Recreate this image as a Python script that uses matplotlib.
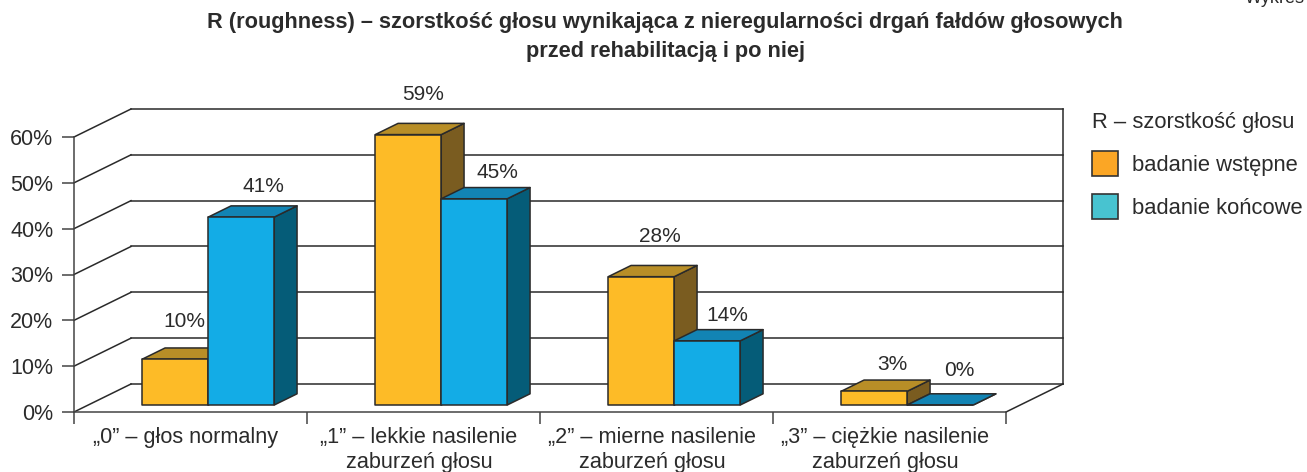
"""3D-style bar chart of voice roughness before and after rehabilitation."""

from matplotlib import pyplot as plt
from matplotlib.patches import Patch, Polygon

categories = [
    "„0” – głos normalny",
    "„1” – lekkie nasilenie\nzaburzeń głosu",
    "„2” – mierne nasilenie\nzaburzeń głosu",
    "„3” – ciężkie nasilenie\nzaburzeń głosu",
]
series_names = ["badanie wstępne", "badanie końcowe"]
initial_values = [10, 59, 28, 3]
final_values = [41, 45, 14, 0]
y_ticks = [0, 10, 20, 30, 40, 50, 60]

plt.rcParams["font.family"] = ["Liberation Sans", "DejaVu Sans"]

TEXT = "#2b2b2b"
LINE = "#2a2a2a"
# front, top and side shades of each series
YELLOW = ("#fdbb27", "#b88e27", "#7a5c20")
BLUE = ("#13ace6", "#1284b4", "#055c78")

# Depth direction of the fake 3D box, in data units
DEPTH_X = 57 / 233
DEPTH_Y = 28 / 4.583
BAR_DEPTH_START = 0.25
BAR_DEPTH = 0.4
BAR_GAP = 54 / 233
BAR_WIDTH = 66 / 233

# Hand placed label offsets in points, one pair per bar (dx, dy from back top centre)
INITIAL_NUDGE = [(-9.5, 19), (-6, 21), (-3, 20.5), (-3.5, 11.5)]
FINAL_NUDGE = [(-0.5, 14), (0, 10.5), (-2, 10.5), (-2.5, 16.5)]


def draw_bar(axis, x, height, colors):
    """Draw one bar as front, top and side faces."""
    x1 = x + BAR_WIDTH
    bottom0 = BAR_DEPTH_START * DEPTH_Y
    top0 = bottom0 + height
    xb0, xb1 = x + BAR_DEPTH * DEPTH_X, x1 + BAR_DEPTH * DEPTH_X
    top1 = top0 + BAR_DEPTH * DEPTH_Y
    bottom1 = bottom0 + BAR_DEPTH * DEPTH_Y
    faces = [
        ([(x1, bottom0), (x1, top0), (xb1, top1), (xb1, bottom1)], colors[2]),
        ([(x, top0), (x1, top0), (xb1, top1), (xb0, top1)], colors[1]),
        ([(x, bottom0), (x1, bottom0), (x1, top0), (x, top0)], colors[0]),
    ]
    for points, color in faces:
        axis.add_patch(
            Polygon(points, closed=True, facecolor=color, edgecolor=LINE,
                    linewidth=1.1, joinstyle="round", clip_on=False, zorder=3)
        )
    return (x + x1) / 2 + BAR_DEPTH * DEPTH_X, top1


figure = plt.figure(figsize=(13.07, 4.72), dpi=100)
axis = figure.add_axes([74 / 1307, 60 / 472, 932 / 1307, 275 / 472])
axis.set_xlim(0, 4)
axis.set_ylim(0, 60)

# Walls: side diagonals and back grid
for tick in y_ticks:
    axis.plot([0, DEPTH_X], [tick, tick + DEPTH_Y], color=LINE, lw=1.1, clip_on=False, zorder=1)
    axis.plot([DEPTH_X, 4 + DEPTH_X], [tick + DEPTH_Y] * 2, color=LINE, lw=1.1, clip_on=False, zorder=1)
axis.plot([4 + DEPTH_X] * 2, [DEPTH_Y, 60 + DEPTH_Y], color=LINE, lw=1.1, clip_on=False, zorder=1)
axis.plot([4, 4 + DEPTH_X], [0, DEPTH_Y], color=LINE, lw=1.1, clip_on=False, zorder=1)

for index, (first, second) in enumerate(zip(initial_values, final_values)):
    start = index + BAR_DEPTH_START * DEPTH_X + BAR_GAP
    top_x, top_y = draw_bar(axis, start, first, YELLOW)
    axis.annotate(f"{first}%", (top_x, top_y), xytext=INITIAL_NUDGE[index],
                  textcoords="offset points", ha="center", va="center", annotation_clip=False,
                  fontsize=15, color=TEXT, zorder=5)
    top_x, top_y = draw_bar(axis, start + BAR_WIDTH, second, BLUE)
    axis.annotate(f"{second}%", (top_x, top_y), xytext=FINAL_NUDGE[index],
                  textcoords="offset points", ha="center", va="center", annotation_clip=False,
                  fontsize=15, color=TEXT, zorder=5)

axis.patch.set_visible(False)
for side in ("top", "right"):
    axis.spines[side].set_visible(False)
for side in ("left", "bottom"):
    axis.spines[side].set_color("#444444")
    axis.spines[side].set_linewidth(1.1)

axis.set_yticks(y_ticks)
axis.set_yticklabels([f"{tick}%" for tick in y_ticks], fontsize=15.5, color=TEXT)
axis.tick_params(axis="y", length=8.5, width=1.1, color="#444444", pad=6.5)
axis.set_xticks(range(5))
axis.set_xticklabels([])
axis.tick_params(axis="x", which="major", length=8.5, width=1.1, color="#444444")
axis.set_xticks([0.48, 1.48, 2.48, 3.48], minor=True)
axis.set_xticklabels(categories, minor=True, fontsize=15.6, color=TEXT, linespacing=1.28)
axis.tick_params(axis="x", which="minor", length=0, pad=10.5)

figure.text(665 / 1307, 1 - 37 / 472,
            "R (roughness) – szorstkość głosu wynikająca z nieregularności drgań fałdów głosowych\n"
            "przed rehabilitacją i po niej",
            ha="center", va="center", fontsize=15.7, fontweight="bold", color=TEXT, linespacing=1.5)
figure.text(1245 / 1307, 1 + 1 / 472, "Wykres", ha="left", va="center", fontsize=13, color=TEXT)

handles = [
    Patch(facecolor="#fba625", edgecolor="#333333", linewidth=1.2),
    Patch(facecolor="#48c3d0", edgecolor="#333333", linewidth=1.2),
]
legend = figure.legend(
    handles, series_names, title="R – szorstkość głosu", loc="upper left",
    bbox_to_anchor=(1092 / 1307, 1 - 112 / 472), frameon=False, fontsize=15.8,
    title_fontsize=15.8, alignment="left", borderpad=0, borderaxespad=0,
    handlelength=1.17, handleheight=1.42, handletextpad=0.65, labelspacing=0.8,
    labelcolor=TEXT,
)
legend.get_title().set_color(TEXT)

figure.savefig("out.png", dpi=100)
plt.close(figure)
